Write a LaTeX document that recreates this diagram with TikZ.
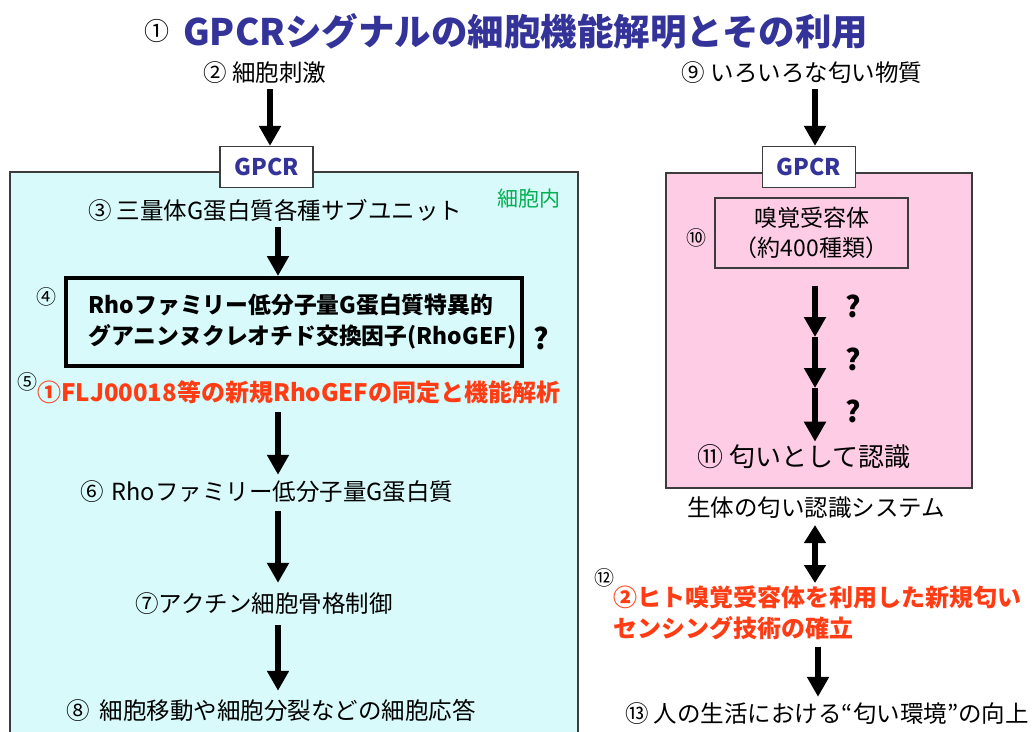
\documentclass[tikz,border=0pt]{standalone}
\usepackage{fontspec}
\setmainfont{Noto Sans CJK JP}
\usetikzlibrary{arrows.meta}
\definecolor{titleblue}{RGB}{51,51,153}
\definecolor{cellcyan}{RGB}{216,250,250}
\definecolor{smellpink}{RGB}{255,204,230}
\definecolor{hotred}{RGB}{255,60,20}
\definecolor{cellgreen}{RGB}{0,176,80}
\definecolor{edgegray}{RGB}{60,60,60}
\begin{document}
\begin{tikzpicture}[x=1pt,y=-1pt,
  txt/.style={inner sep=0pt, font=\fontsize{23.5}{28}\selectfont},
  bigtxt/.style={inner sep=0pt, font=\fontsize{26}{31}\selectfont},
  smallnum/.style={inner sep=0pt, font=\fontsize{20}{22}\selectfont},
  redtxt/.style={inner sep=0pt, text=hotred, align=left, font=\bfseries\fontsize{24}{31}\selectfont},
  qmark/.style={inner sep=0pt, font=\bfseries\fontsize{29}{32}\selectfont},
  gpcrbox/.style={draw=edgegray, line width=1.2pt, fill=white, minimum width=93pt, minimum height=41pt, inner sep=0pt, text=titleblue, font=\bfseries\fontsize{23}{26}\selectfont},
  rhobox/.style={draw=black, line width=4pt, minimum width=456pt, minimum height=88pt, inner sep=0pt, align=left, font=\bfseries\fontsize{22.8}{31}\selectfont},
  recbox/.style={draw=edgegray, line width=1.2pt, fill=smellpink, minimum width=193pt, minimum height=70pt, inner sep=0pt, align=center, font=\fontsize{23}{30}\selectfont},
  bigarrow/.style={line width=6pt, -{Triangle[width=21pt,length=20pt]}},
  dblarrow/.style={line width=6pt, {Triangle[width=21pt,length=18pt]}-{Triangle[width=21pt,length=18pt]}}
]
\useasboundingbox (0,0) rectangle (1032,731);
\fill[white] (0,0) rectangle (1032,731);

% title
\node[inner sep=0pt, font=\fontsize{25}{28}\selectfont] (t0) at (157,31) {①};
\node[inner sep=0pt, anchor=west, text=titleblue, font=\bfseries\fontsize{36.5}{40}\selectfont] (title) at (183,31) {GPCRシグナルの細胞機能解明とその利用};

% left panel
\draw[draw=edgegray, line width=1.2pt, fill=cellcyan] (10,172) rectangle (578,745);
\coordinate (colA) at (270,0);
\coordinate (colB) at (278,0);
\node[txt] (n2) at (265,73) {② 細胞刺激};
\node[gpcrbox] (gpcrL) at (266.5,167) {GPCR};
\node[txt, anchor=west] (n3) at (88,211) {③ 三量体G蛋白質各種サブユニット};
\node[txt, text=cellgreen, font=\fontsize{21}{25}\selectfont] (cellin) at (529,199) {細胞内};
\node[rhobox] (n4) at (294,322) {\hspace*{17pt}Rhoファミリー低分子量G蛋白質特異的\\\hspace*{17pt}グアニンヌクレオチド交換因子(RhoGEF)};
\node[smallnum] (c4) at (46,297) {④};
\node[qmark] (q4) at (541,338) {?};
\node[smallnum] (c5) at (27,382) {⑤};
\node[redtxt, anchor=west] (n5) at (37,392) {①FLJ00018等の新規RhoGEFの同定と機能解析};
\node[txt, anchor=west] (n6) at (80,492) {⑥\hspace{8pt}Rhoファミリー低分子量G蛋白質};
\node[txt, anchor=west] (n7) at (135,604) {⑦アクチン細胞骨格制御};
\node[txt, anchor=west] (n8) at (66,710) {⑧\hspace{10pt}細胞移動や細胞分裂などの細胞応答};

\draw[bigarrow, shorten <=5pt] (n2.south -| colA) -- (gpcrL.north -| colA);
\draw[bigarrow, shorten <=5pt] (n3.south -| colB) -- (n4.north -| colB);
\draw[bigarrow, shorten <=8pt, shorten >=6pt] (n5.south -| colB) -- (n6.north -| colB);
\draw[bigarrow, shorten <=8pt, shorten >=10pt] (n6.south -| colB) -- (n7.north -| colB);
\draw[bigarrow, shorten <=10pt, shorten >=8pt] (n7.south -| colB) -- (n8.north -| colB);

% right panel
\coordinate (colR) at (815,0);
\coordinate (colS) at (818,0);
\node[txt] (n9) at (802,73) {⑨ いろいろな匂い物質};
\draw[draw=edgegray, line width=1.5pt, fill=smellpink] (666,173) rectangle (972,488);
\node[gpcrbox] (gpcrR) at (809,167) {GPCR};
\node[recbox] (n10) at (811.5,233) {嗅覚受容体\\（約400種類）};
\node[smallnum] (c10) at (696,238) {⑩};
\coordinate (m1) at (815,337);
\coordinate (m2) at (815,388);
\node[bigtxt, anchor=west] (n11) at (697,457) {⑪ 匂いとして認識};
\node[qmark] (q1) at (853,306) {?};
\node[qmark] (q2) at (853,359) {?};
\node[qmark] (q3) at (853,411) {?};
\node[txt] (n11b) at (816,508) {生体の匂い認識システム};
\node[smallnum] (c12) at (604,578) {⑫};
\node[redtxt, anchor=north west] (n12) at (613,586) {②ヒト嗅覚受容体を利用した新規匂い\\センシング技術の確立};
\node[txt, anchor=west] (n13) at (625,714) {⑬ 人の生活における“匂い環境”の向上};

\draw[bigarrow, shorten <=5pt] (n9.south -| colR) -- (gpcrR.north -| colR);
\draw[bigarrow, shorten <=17pt] (n10.south -| colR) -- (m1);
\draw[bigarrow] (m1) -- (m2);
\draw[bigarrow, shorten >=3pt] (m2) -- (n11.north -| colR);
\draw[dblarrow, shorten <=6pt, shorten >=3pt] (n11b.south -| colR) -- (n12.north -| colR);
\draw[bigarrow, shorten <=6pt, shorten >=6pt] (n12.south -| colS) -- (n13.north -| colS);
\end{tikzpicture}
\end{document}
